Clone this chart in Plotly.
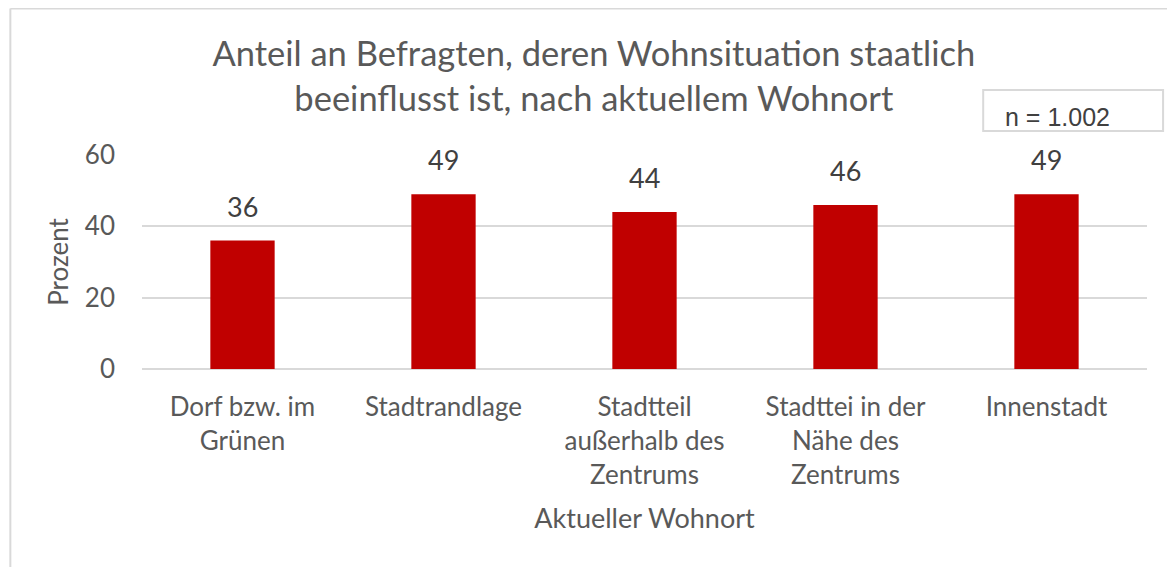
import plotly.graph_objects as go

kategorien = ["Dorf bzw. im<br>Grünen", "Stadtrandlage", "Stadtteil<br>außerhalb des<br>Zentrums",
              "Stadttei in der<br>Nähe des<br>Zentrums", "Innenstadt"]
anteil = [36, 49, 44, 46, 49]
y_ticks = [0, 20, 40, 60]

grau = "#595959"
schrift = "Lato, Open Sans, sans-serif"
rand = "#d9d9d9"

# Seite hat 8px body-margin -> Figur 8px kleiner, Raender entsprechend
fig = go.Figure(go.Bar(
    x=kategorien, y=anteil,
    marker=dict(color="#C00000", line=dict(width=0)),
    width=0.32,
))

# Datenbeschriftungen etwas weiter ueber den Balken als plotly's "outside"
labels = [dict(x=k, y=v, text=str(v), xref="x", yref="y", showarrow=False,
               yanchor="bottom", yshift=16,
               font=dict(size=27, color="#404040", family=schrift))
          for k, v in zip(kategorien, anteil)]

fig.update_layout(
    width=1167, height=559,
    margin=dict(l=134, r=28, t=147, b=198),
    paper_bgcolor="white", plot_bgcolor="white",
    font=dict(family=schrift, color=grau),
    showlegend=False,
    title=dict(text="Anteil an Befragten, deren Wohnsituation staatlich<br>beeinflusst ist, nach aktuellem Wohnort",
               x=0.502, xanchor="center", y=0.896, yanchor="middle",
               font=dict(size=34.5, color=grau, family=schrift)),
    xaxis=dict(title=dict(text="Aktueller Wohnort", font=dict(size=27, color=grau), standoff=20),
               tickfont=dict(size=26, color=grau), showgrid=False, showline=False, ticks="",
               ticklabelstandoff=20),
    yaxis=dict(title=dict(text="Prozent", font=dict(size=26, color=grau), standoff=8),
               range=[0, 60], tickvals=y_ticks, tickfont=dict(size=26, color=grau),
               showgrid=True, gridcolor=rand, gridwidth=2, zeroline=True,
               zerolinecolor=rand, zerolinewidth=2, ticks="", ticklabelstandoff=26),
    shapes=[
        dict(type="line", xref="paper", yref="paper", x0=-0.131, x1=1.1, y0=1.685, y1=1.685,
             line=dict(color=rand, width=2)),
        dict(type="line", xref="paper", yref="paper", x0=-0.131, x1=-0.131, y0=1.685, y1=-1.2,
             line=dict(color=rand, width=2)),
        dict(type="rect", xref="paper", yref="paper", x0=0.837, x1=1.016, y0=1.112, y1=1.304,
             line=dict(color=rand, width=2)),
    ],
    annotations=labels + [dict(text="n = 1.002", xref="paper", yref="paper", x=0.857, y=1.178,
                               xanchor="left", yanchor="middle", showarrow=False,
                               font=dict(size=25, color="#404040", family="Liberation Sans, Arial"))],
)

fig.write_html("out.html")
